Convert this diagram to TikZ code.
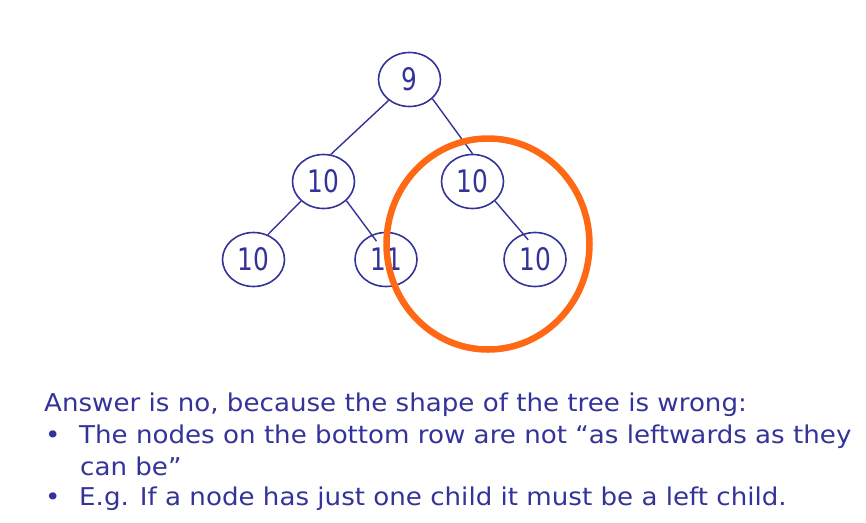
\documentclass[tikz,border=0pt]{standalone}
\usepackage{fontspec}
\setmainfont{DejaVu Sans}
\newfontfamily\keyfont{DejaVu Sans}[FakeStretch=0.8]
\newfontfamily\bodyfont{DejaVu Sans}[FakeStretch=1.066]
\usetikzlibrary{positioning,shapes.geometric}

\definecolor{navy}{RGB}{51,51,153}
\definecolor{mark}{RGB}{255,104,20}

\begin{document}
\begin{tikzpicture}[
			x=1pt, y=-1pt,
			every node/.style={text=navy},
			key/.style={
				draw=navy,
				ellipse,
				line width=1.6pt,
				minimum width=62pt,
				minimum height=54pt,
				inner sep=0pt,
				font=\keyfont\fontsize{31}{33}\selectfont
			},
			edge/.style={draw=navy, line width=1.4pt},
			line/.style={anchor=base west, inner sep=0pt,
				font=\bodyfont\fontsize{24.5}{28}\selectfont}
			]
			
			\useasboundingbox (0,0) rectangle (866,522);
			
			%%%%%%%%%%%%%%%%%%%%%%%%%%%%%%%%%%%%%%%%%%%%%%%%%%%%%%
			% Tree
			%%%%%%%%%%%%%%%%%%%%%%%%%%%%%%%%%%%%%%%%%%%%%%%%%%%%%%
			
			\node[key] (root) at (409.5,79.5) {9};
			
			\node[key] (l) at (323.5,181.5) {10};
			
			\node[key] (r) at (472.5,181.5) {10};
			
			\node[key] (ll) at (253.5,259.5) {10};
			
			\node[key] (lr) at (386,259.5) {11};
			
			\node[key] (rr) at (535,259.5) {10};
			
			%%%%%%%%%%%%%%%%%%%%%%%%%%%%%%%%%%%%%%%%%%%%%%%%%%%%%%
			% Edges
			%%%%%%%%%%%%%%%%%%%%%%%%%%%%%%%%%%%%%%%%%%%%%%%%%%%%%%
			
			\draw[edge]
			(root.225) -- (l.75);
			
			\draw[edge]
			(root.-40) -- (r.90);
			
			\draw[edge]
			(l.221) -- (ll.60);
			
			\draw[edge, shorten >=-8pt]
			(l.-40) -- (lr.120);
			
			\draw[edge, shorten >=-8pt]
			(r.-41) -- (rr.115);
			
			%%%%%%%%%%%%%%%%%%%%%%%%%%%%%%%%%%%%%%%%%%%%%%%%%%%%%%
			% Highlight
			%%%%%%%%%%%%%%%%%%%%%%%%%%%%%%%%%%%%%%%%%%%%%%%%%%%%%%
			
			\node[
			draw=mark,
			ellipse,
			line width=6.5pt,
			minimum width=203pt,
			minimum height=211pt
			] (ring) at (488,244) {};
			
			%%%%%%%%%%%%%%%%%%%%%%%%%%%%%%%%%%%%%%%%%%%%%%%%%%%%%%
			% Text
			%%%%%%%%%%%%%%%%%%%%%%%%%%%%%%%%%%%%%%%%%%%%%%%%%%%%%%
			
			\node[line] (answer) at (44,411)
			{Answer is no, because the shape of the tree is wrong:};
			
			\node[line] (dota) at (45,443) {•};
			
			\node[line] (pointa) at (79,443)
			{The nodes on the bottom row are not “as leftwards as they};
			
			\node[line] (pointb) at (80,475) {can be”};
			
			\node[line] (dotb) at (45,505) {•};
			
			\node[line] (pointc) at (79,505)
			{E.g. If a node has just one child it must be a left child.};
			
		\end{tikzpicture}
\end{document}
